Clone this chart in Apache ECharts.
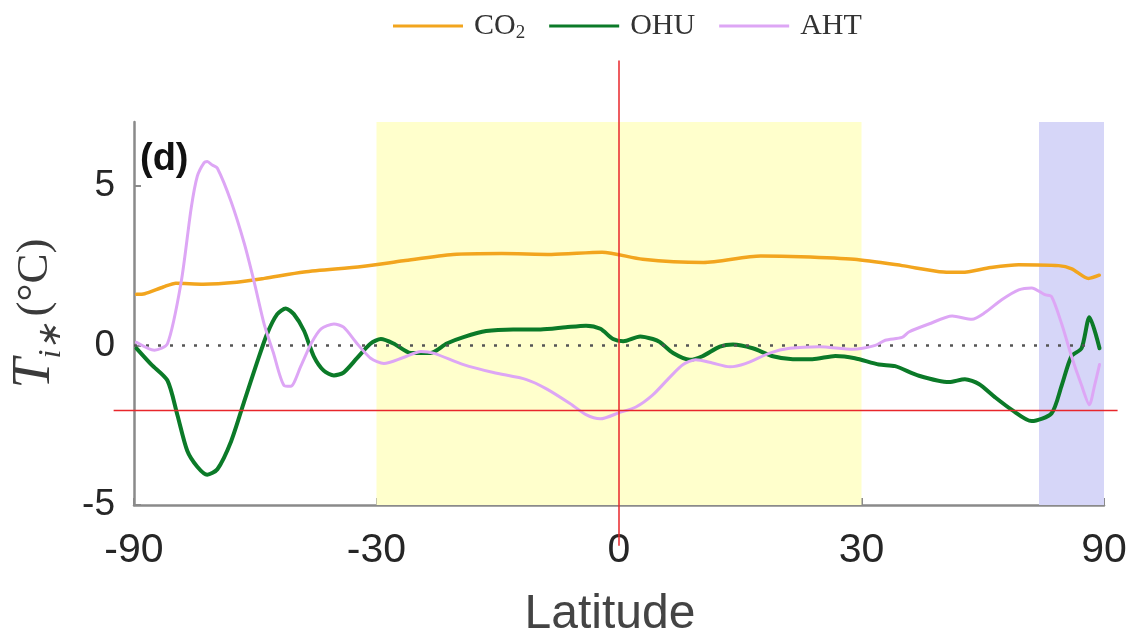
<!DOCTYPE html>
<html><head><meta charset="utf-8">
<script src="https://cdn.jsdelivr.net/npm/echarts@6/dist/echarts.min.js"></script>
<style>html,body{margin:0;padding:0;background:#fff}#c{width:1130px;height:644px}</style>
</head><body><div id="c"></div>
<script>
// ---- data ----
const seriesNames = ['CO2', 'OHU', 'AHT'];
const xTickLabels = [-90, -30, 0, 30, 90];
const yTickLabels = [-5, 0, 5];
const tropicsBand = [-30, 30];
const arcticBand = [60, 90];
const zeroLineLat = [-90, 78];

const co2Lat = [-84, -78, -70, -66, -59, -52, -47, -40.5, -32, -26.4, -20, -14, -8, -2, 2.8, 10, 17, 22, 29, 35.7, 42, 45, 50, 55.5, 65, 69, 75.5, 82];
const co2Val = [1.6, 1.62, 1.83, 1.95, 1.92, 1.98, 2.1, 2.3, 2.47, 2.65, 2.85, 2.88, 2.85, 2.92, 2.7, 2.6, 2.8, 2.78, 2.7, 2.5, 2.3, 2.29, 2.44, 2.53, 2.5, 2.4, 2.1, 2.2];

const ohuLat = [-84.2, -74.6, -68.6, -65.6, -62.9, -60.4, -58.1, -55.9, -53.1, -50.6, -48.3, -46.5, -44.8, -43.4, -42.1, -40.5, -39, -37.5, -36, -34.6, -32.7, -30.8, -29.4, -27.7, -25.4, -22.9, -20.8, -18.7, -15.9, -12.6, -9.3, -6.3, -3.9, -2.2, -0.7, 0.5, 2.5, 4, 4.8, 6.4, 8.4, 9.9, 12, 13.6, 16, 18.5, 21, 23.5, 26.5, 29.1, 32.4, 34.7, 38.2, 42.9, 45.5, 47.9, 50.8, 54.1, 58.3, 63.1, 65.9, 68.9, 72.5, 75.9, 82.2];
const ohuVal = [-0.09, -0.6, -1.1, -2.17, -3.3, -3.8, -4.05, -3.88, -3.0, -1.75, -0.55, 0.37, 0.98, 1.16, 0.98, 0.46, -0.34, -0.79, -0.94, -0.85, -0.4, 0.06, 0.2, 0.06, -0.24, -0.24, 0.06, 0.26, 0.45, 0.5, 0.5, 0.57, 0.62, 0.52, 0.2, 0.13, 0.28, 0.2, 0.11, -0.24, -0.45, -0.34, -0.04, 0.03, -0.09, -0.34, -0.43, -0.43, -0.33, -0.4, -0.6, -0.65, -0.95, -1.15, -1.06, -1.21, -1.62, -2.02, -2.37, -2.13, -1.25, -0.34, -0.09, 0.88, -0.09];

const ahtLat = [-84.2, -73.3, -68.6, -64.5, -61.9, -60.4, -58.8, -58.1, -57, -55.9, -53.1, -50.6, -48.8, -47, -45.5, -43.7, -42.6, -41, -39.4, -37.9, -36, -34.6, -32.7, -30.8, -29, -26.4, -24.1, -22.5, -18.7, -15, -11, -8.6, -5.8, -3.9, -2.2, 0.1, 2, 4, 6, 7.6, 9.1, 11.1, 13.2, 15.1, 18.1, 20.6, 24.4, 28.8, 31.9, 33.3, 35.7, 36.7, 39.7, 43.4, 46.7, 49, 52.1, 55.5, 58.3, 61.4, 63.1, 65.9, 68.9, 72.5, 75.9, 78.7, 82.2];
const ahtVal = [0.1, -0.15, 0.05, 2.0, 4.3, 5.3, 5.73, 5.76, 5.65, 5.55, 4.5, 3.2, 2.0, 0.65, -0.2, -1.25, -1.28, -0.65, 0.06, 0.52, 0.67, 0.57, 0.06, -0.4, -0.57, -0.38, -0.19, -0.24, -0.6, -0.85, -1.07, -1.36, -1.82, -2.17, -2.3, -2.1, -1.93, -1.55, -1.0, -0.6, -0.45, -0.55, -0.67, -0.57, -0.24, -0.09, -0.04, -0.12, 0.0, 0.16, 0.25, 0.42, 0.67, 0.92, 0.82, 1.03, 1.43, 1.74, 1.8, 1.59, 1.53, 0.67, -0.34, -1.25, -1.86, -1.25, -0.6];

// crosshair guide (data units: sin-latitude / value)
const guideV = {x: 0, yFrom: 8.93, yTo: -6.28};
const guideH = {y: -2.04, xFrom: -1.042, xTo: 1.028};

// ---- helpers ----
const rad = Math.PI / 180;
const toX = lat => Math.sin(lat * rad);
const toLat = x => Math.round(Math.asin(Math.max(-1, Math.min(1, x))) / rad);
const pairs = (lats, vals) => lats.map((l, i) => [toX(l), vals[i]]);

const chart = echarts.init(document.getElementById('c'));
const axisGray = '#8a8a8a';
const lineSeries = (name, lats, vals, color, width, z) => ({
  name, type: 'line', data: pairs(lats, vals), symbol: 'none', smooth: 0.25, z,
  lineStyle: {color, width, cap: 'round', join: 'round'}, itemStyle: {color}
});

chart.setOption({
  animation: false,
  backgroundColor: '#ffffff',
  grid: {left: 130, right: 26, top: 122, bottom: 129},
  legend: {
    data: seriesNames, top: 6, left: 388, icon: 'rect', itemWidth: 70, itemHeight: 3, itemGap: 24,
    formatter: n => n === 'CO2' ? 'CO{s|2}' : n,
    textStyle: {fontFamily: 'Liberation Serif', fontSize: 30, color: '#333', padding: [0, 0, 0, 6],
      rich: {s: {fontFamily: 'Liberation Serif', fontSize: 19, color: '#333', verticalAlign: 'bottom', lineHeight: 34}}}
  },
  xAxis: {
    type: 'value', min: -1, max: 1,
    axisLine: {onZero: false, lineStyle: {color: axisGray, width: 2.5}},
    axisTick: {inside: true, length: 7, lineStyle: {color: axisGray, width: 2}, customValues: xTickLabels.map(toX)},
    axisLabel: {customValues: xTickLabels.map(toX), formatter: v => String(toLat(v)),
      fontSize: 41, fontFamily: 'Liberation Sans', color: '#262626', margin: 25},
    splitLine: {show: false},
    name: 'Latitude', nameLocation: 'middle', nameGap: 86,
    nameTextStyle: {fontSize: 48, fontFamily: 'Liberation Sans', color: '#444', padding: [0, 18, 0, 0]}
  },
  yAxis: {
    type: 'value', min: -5, max: 7,
    axisLine: {show: true, onZero: false, lineStyle: {color: axisGray, width: 2.5}},
    axisTick: {show: true, inside: true, length: 7, lineStyle: {color: axisGray, width: 2}, customValues: yTickLabels},
    axisLabel: {customValues: yTickLabels, fontSize: 37, fontFamily: 'Liberation Sans', color: '#262626', margin: 19},
    splitLine: {show: false},
    name: '{t|T}{s|i∗}  {u|(°C)}', nameLocation: 'middle', nameGap: 66, nameRotate: 90,
    nameTextStyle: {color: '#3a3a3a', fontFamily: 'Liberation Serif',
      rich: {
        t: {fontFamily: 'Liberation Serif', fontStyle: 'italic', fontSize: 54, color: '#3a3a3a'},
        s: {fontFamily: 'Liberation Serif', fontStyle: 'italic', fontSize: 32, color: '#3a3a3a', verticalAlign: 'bottom', lineHeight: 66},
        u: {fontFamily: 'Liberation Serif', fontSize: 45, color: '#3a3a3a'}
      }}
  },
  series: [
    {
      type: 'line', name: 'bands', data: [], silent: true, z: 1,
      markArea: {silent: true, data: [
        [{xAxis: toX(tropicsBand[0]), itemStyle: {color: '#ffffcc'}}, {xAxis: toX(tropicsBand[1])}],
        [{xAxis: toX(arcticBand[0]), itemStyle: {color: '#d6d6f8'}}, {xAxis: toX(arcticBand[1])}]
      ]},
      markLine: {silent: true, symbol: 'none', label: {show: false},
        lineStyle: {color: '#555', type: [3, 9], width: 2.5},
        data: [[{coord: [toX(zeroLineLat[0]), 0]}, {coord: [toX(zeroLineLat[1]), 0]}]]}
    },
    lineSeries('CO2', co2Lat, co2Val, '#f2a51e', 3.5, 3),
    lineSeries('OHU', ohuLat, ohuVal, '#0b7a28', 4, 4),
    lineSeries('AHT', ahtLat, ahtVal, '#dda6f5', 3, 5)
  ]
});

const vTop = chart.convertToPixel({gridIndex: 0}, [guideV.x, guideV.yFrom]);
const vBot = chart.convertToPixel({gridIndex: 0}, [guideV.x, guideV.yTo]);
const hL = chart.convertToPixel({gridIndex: 0}, [guideH.xFrom, guideH.y]);
const hR = chart.convertToPixel({gridIndex: 0}, [guideH.xTo, guideH.y]);
chart.setOption({
  graphic: [
    {type: 'text', left: 140, top: 141, z: 10, style: {text: '(d)', font: 'bold 38px "Liberation Sans"', fill: '#111'}},
    {type: 'line', z: 20, shape: {x1: vTop[0], y1: vTop[1], x2: vBot[0], y2: vBot[1]}, style: {stroke: '#e8262b', lineWidth: 1.5}},
    {type: 'line', z: 20, shape: {x1: hL[0], y1: hL[1], x2: hR[0], y2: hR[1]}, style: {stroke: '#e8262b', lineWidth: 1.5}}
  ]
});
</script>
</body></html>
